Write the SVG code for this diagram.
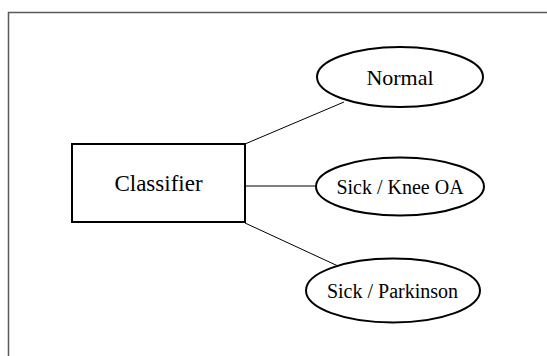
<svg xmlns="http://www.w3.org/2000/svg" width="547" height="356" viewBox="0 0 547 356">
  <style>
    .frame { fill: #ffffff; stroke: #5a5a5a; stroke-width: 1.5; }
    .node { fill: #ffffff; stroke: #000000; stroke-width: 2; }
    .edge { stroke: #000000; stroke-width: 1; fill: none; }
    .label { font-family: "Liberation Serif", "Times New Roman", serif; fill: #000000; text-anchor: middle; }
  </style>

  <!-- outer frame, runs past the right and bottom edges -->
  <rect class="frame" x="8.5" y="12.5" width="600" height="400"/>

  <!-- connectors -->
  <g id="connectors">
    <line class="edge" x1="245" y1="144" x2="344" y2="102"/>
    <line class="edge" x1="245" y1="186" x2="316" y2="186"/>
    <line class="edge" x1="245" y1="223" x2="338" y2="266"/>
  </g>

  <g id="classifier">
    <rect class="node" x="72" y="144" width="173" height="78"/>
    <text class="label" x="158.5" y="191" font-size="23">Classifier</text>
  </g>

  <g id="normal">
    <ellipse class="node" cx="400" cy="77" rx="83" ry="30"/>
    <text class="label" x="400" y="85" font-size="22">Normal</text>
  </g>

  <g id="knee-oa">
    <ellipse class="node" cx="400" cy="186.5" rx="84" ry="29"/>
    <text class="label" x="400" y="194" font-size="20">Sick / Knee OA</text>
  </g>

  <g id="parkinson">
    <ellipse class="node" cx="393" cy="290.5" rx="87" ry="32"/>
    <text class="label" x="392.5" y="298" font-size="20">Sick / Parkinson</text>
  </g>
</svg>
